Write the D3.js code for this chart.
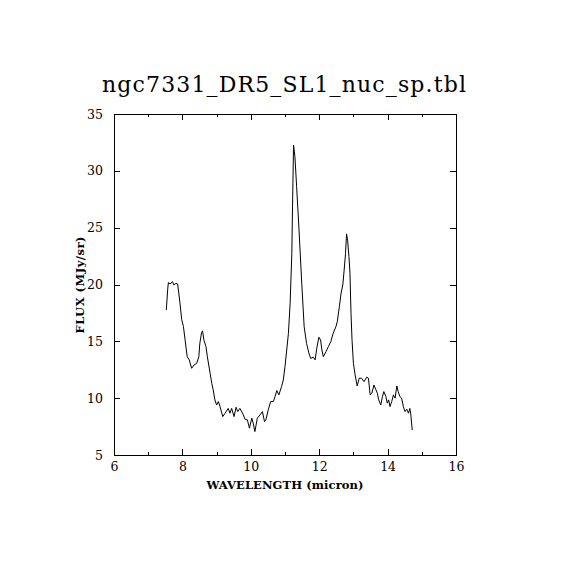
<!DOCTYPE html>
<html>
<head>
<meta charset="utf-8">
<script src="https://cdn.jsdelivr.net/npm/d3@7"></script>
<style>
  body { margin: 0; background: white; }
  svg { display: block; }
  .axis path, .axis line { stroke: black; stroke-width: 1; shape-rendering: crispEdges; }
  .axis text { font-family: "DejaVu Serif", serif; font-size: 12.5px; fill: black; }
</style>
</head>
<body>
<svg id="chart" width="570" height="570"></svg>
<script>
////////////////////////////////////////////////////////////////////////////////////
// Data
var wavelength = [7.53, 7.57, 7.59, 7.64, 7.71, 7.75, 7.81, 7.86, 7.93, 7.98,
                  8.03, 8.08, 8.14, 8.20, 8.27, 8.34, 8.42, 8.48, 8.51, 8.56,
                  8.59, 8.63, 8.69, 8.73, 8.81, 8.86, 8.90, 8.95, 9.00, 9.05,
                  9.10, 9.18, 9.25, 9.34, 9.39, 9.44, 9.51, 9.57, 9.62, 9.68,
                  9.76, 9.83, 9.90, 9.96, 10.03, 10.07, 10.12, 10.19, 10.27, 10.34,
                  10.40, 10.44, 10.51, 10.58, 10.66, 10.71, 10.76, 10.82, 10.90, 10.95,
                  11.00, 11.05, 11.10, 11.15, 11.20, 11.22, 11.25, 11.29, 11.34, 11.41,
                  11.49, 11.56, 11.63, 11.70, 11.75, 11.83, 11.88, 11.93, 11.99, 12.04,
                  12.08, 12.12, 12.20, 12.27, 12.34, 12.41, 12.49, 12.53, 12.59, 12.64,
                  12.69, 12.73, 12.77, 12.80, 12.83, 12.87, 12.90, 12.93, 12.96, 13.00,
                  13.05, 13.11, 13.17, 13.24, 13.31, 13.39, 13.44, 13.49, 13.54, 13.60,
                  13.66, 13.70, 13.74, 13.80, 13.85, 13.89, 13.95, 13.99, 14.03, 14.07,
                  14.12, 14.17, 14.22, 14.27, 14.31, 14.36, 14.41, 14.46, 14.51, 14.56,
                  14.61, 14.65, 14.68, 14.72];
var flux = [17.76, 19.58, 20.17, 20.05, 20.25, 19.96, 20.10, 20.05, 18.35, 16.90,
            16.30, 15.10, 13.65, 13.37, 12.63, 12.92, 13.07, 13.65, 14.83, 15.77,
            15.92, 15.10, 14.53, 13.65, 12.20, 11.30, 10.73, 9.85, 9.40, 9.70,
            9.26, 8.38, 8.68, 9.10, 8.68, 9.10, 8.38, 9.20, 8.82, 9.10,
            8.68, 8.15, 8.09, 7.36, 8.24, 7.80, 7.06, 8.24, 8.53, 8.82,
            7.94, 8.09, 8.97, 9.70, 9.70, 10.14, 10.67, 10.29, 11.02, 11.60,
            12.78, 14.24, 15.70, 18.35, 22.75, 26.85, 32.27, 31.25, 28.60, 24.80,
            20.10, 16.30, 14.83, 13.95, 13.50, 13.60, 13.37, 14.40, 15.36, 15.12,
            14.24, 13.65, 14.10, 14.54, 14.98, 15.72, 16.30, 16.74, 18.06, 19.24,
            19.96, 21.28, 22.75, 24.45, 23.90, 22.45, 20.99, 17.47, 15.10, 13.07,
            12.04, 11.08, 11.75, 11.75, 11.46, 11.85, 11.75, 10.29, 10.43, 11.16,
            10.73, 10.43, 9.85, 9.40, 10.14, 10.58, 10.14, 9.56, 9.85, 9.26,
            9.70, 10.29, 10.00, 11.08, 10.58, 10.14, 10.00, 9.26, 8.82, 9.03,
            8.68, 9.10, 8.53, 7.20];

var xTicks = [6, 8, 10, 12, 14, 16];
var xMinor = [7, 9, 11, 13, 15];
var yTicks = [5, 10, 15, 20, 25, 30, 35];

var titleText = "ngc7331_DR5_SL1_nuc_sp.tbl";
var xLabel = "WAVELENGTH (micron)";
var yLabel = "FLUX (MJy/sr)";

////////////////////////////////////////////////////////////////////////////////////
// Scales
var svg = d3.select("#chart");
var x0 = 114, x1 = 456, y0 = 455, y1 = 114;

var xScale = d3.scaleLinear().domain([6, 16]).range([x0, x1]);
var yScale = d3.scaleLinear().domain([5, 35]).range([y0, y1]);

////////////////////////////////////////////////////////////////////////////////////
// Axes (ticks point inward, like the original plot)
svg.append("g").attr("class", "axis")
   .attr("transform", "translate(0," + y0 + ")")
   .call(d3.axisBottom(xScale).tickValues(xTicks).tickSize(-6).tickPadding(7).tickFormat(d3.format("d")));
svg.append("g").attr("class", "axis")
   .attr("transform", "translate(0," + y0 + ")")
   .call(d3.axisBottom(xScale).tickValues(xMinor).tickSize(-3).tickFormat(""));
svg.append("g").attr("class", "axis")
   .attr("transform", "translate(0," + y1 + ")")
   .call(d3.axisTop(xScale).tickValues(xTicks).tickSize(-6).tickFormat(""));
svg.append("g").attr("class", "axis")
   .attr("transform", "translate(0," + y1 + ")")
   .call(d3.axisTop(xScale).tickValues(xMinor).tickSize(-3).tickFormat(""));
svg.append("g").attr("class", "axis")
   .attr("transform", "translate(" + x0 + ",0)")
   .call(d3.axisLeft(yScale).tickValues(yTicks).tickSize(-6).tickPadding(11).tickFormat(d3.format("d")));
svg.append("g").attr("class", "axis")
   .attr("transform", "translate(" + x1 + ",0)")
   .call(d3.axisRight(yScale).tickValues(yTicks).tickSize(-6).tickFormat(""));

// the frame is drawn as one rectangle, so drop d3's domain paths
svg.selectAll(".axis .domain").remove();
svg.append("rect")
   .attr("x", x0).attr("y", y1)
   .attr("width", x1 - x0).attr("height", y0 - y1)
   .attr("fill", "none").attr("stroke", "black")
   .attr("shape-rendering", "crispEdges");

////////////////////////////////////////////////////////////////////////////////////
// Spectrum line
var line = d3.line()
             .x(function(d, i) { return xScale(wavelength[i]); })
             .y(function(d) { return yScale(d); });
svg.append("path")
   .datum(flux)
   .attr("d", line)
   .attr("fill", "none")
   .attr("stroke", "black")
   .attr("stroke-width", 1);

////////////////////////////////////////////////////////////////////////////////////
// Titles
svg.append("text")
   .attr("x", 284).attr("y", 92)
   .attr("text-anchor", "middle")
   .attr("textLength", 364)
   .style("font-family", "DejaVu Serif, serif")
   .style("font-size", "22px")
   .text(titleText);
svg.append("text")
   .attr("x", 285).attr("y", 489)
   .attr("text-anchor", "middle")
   .attr("textLength", 157)
   .style("font-family", "DejaVu Serif, serif")
   .style("font-size", "11.5px")
   .style("font-weight", "bold")
   .text(xLabel);
svg.append("text")
   .attr("transform", "translate(84,285) rotate(-90)")
   .attr("text-anchor", "middle")
   .attr("textLength", 97)
   .style("font-family", "DejaVu Serif, serif")
   .style("font-size", "11.5px")
   .style("font-weight", "bold")
   .text(yLabel);
</script>
</body>
</html>
